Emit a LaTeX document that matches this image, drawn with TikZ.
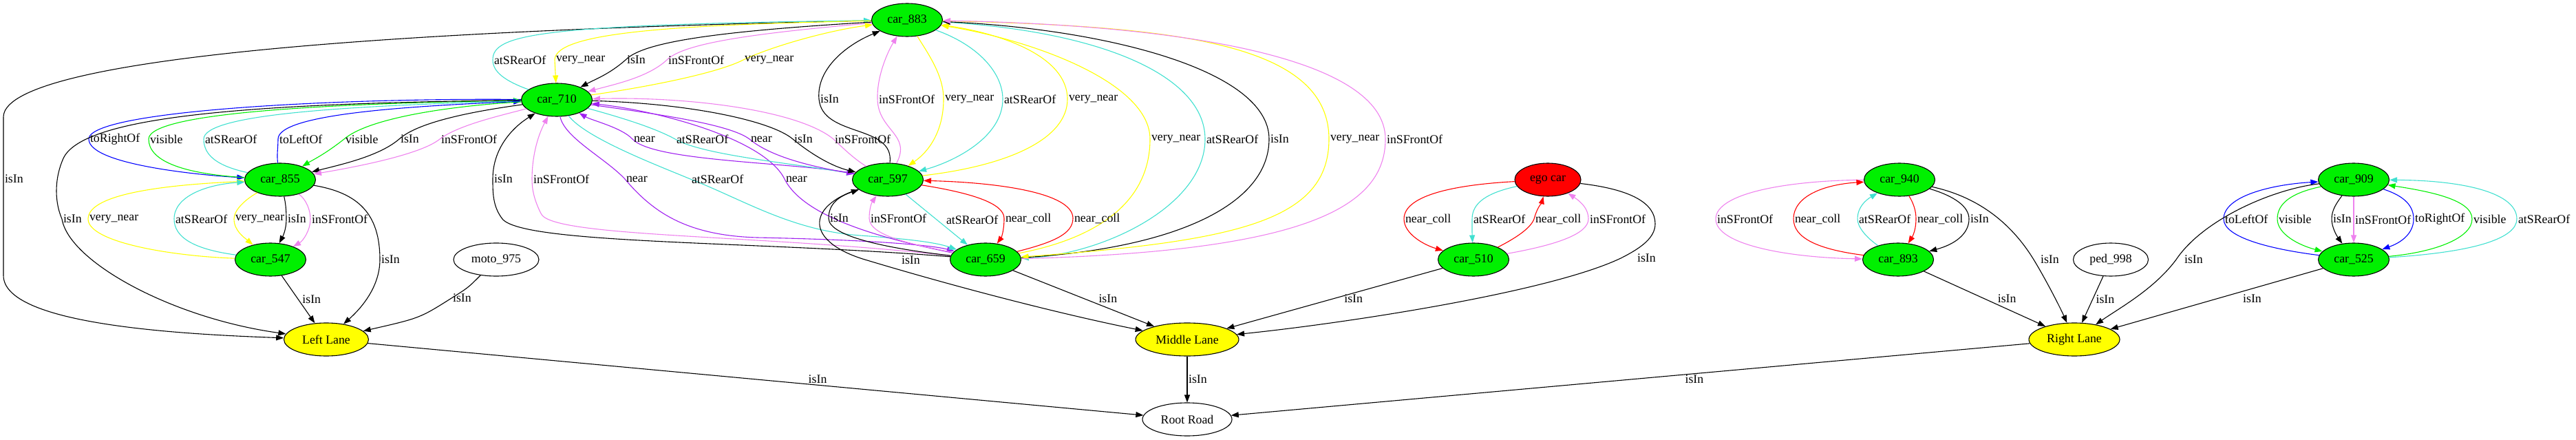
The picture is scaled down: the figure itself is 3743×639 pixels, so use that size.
\documentclass[tikz,border=0pt]{standalone}
\usepackage{fontspec}
\setmainfont{Liberation Serif}
\usetikzlibrary{shapes.geometric,arrows.meta}

\definecolor{gvgreen}{HTML}{00F000}
\definecolor{gvyellow}{HTML}{FFFF00}
\definecolor{gvred}{HTML}{FF0000}
\definecolor{gvturq}{HTML}{40E0D0}
\definecolor{gvviolet}{HTML}{EE82EE}
\definecolor{gvpurple}{HTML}{A020F0}
\definecolor{gvblue}{HTML}{0000FF}
\newcommand{\gvfont}{\fontsize{17.8}{20}\selectfont}

\begin{document}
\begin{tikzpicture}
	[x=1pt, y=-1pt,
		vehicle/.style	={ellipse
									, draw=black
									, line width=1.1pt, fill=gvgreen
									, minimum width=103pt
									, minimum height=48pt
									, inner sep=0pt
									, font=\gvfont
									},
		lane/.style		={vehicle
									, fill=gvyellow
									},
		other/.style		={vehicle
									, fill=white
									},
		rel/.style		 	={draw
									, line width=1.1pt
									, -{Triangle[length=11pt,width=8pt]}
									},
		lbl/.style			={anchor=west
									, inner sep=1.5pt
									, text=black
									, font=\gvfont
									},
		isIn/.style			={rel, draw=black},
		inFront/.style		={rel, draw=gvviolet},
		atRear/.style		={rel, draw=gvturq},
		veryNear/.style	={rel, draw=gvyellow},
		nearRel/.style		={rel, draw=gvpurple},
		nearColl/.style	={rel, draw=gvred},
		visibleRel/.style	={rel, draw=gvgreen},
		leftOf/.style		={rel, draw=gvblue},
		rightOf/.style		={rel, draw=gvblue}
	]
\useasboundingbox (0,0) rectangle (3743,639);

% rank 1
\node [vehicle] (car883)	at (1318,29)	{car\_883};
% rank 2
\node [vehicle] (car710)	at (809,145)	{car\_710};
% rank 3
\node [vehicle] (car855)	at (407,261)	{car\_855};
\node [vehicle] (car597)	at (1290,261)	{car\_597};
\node [vehicle, fill=gvred, minimum width=96pt] (egocar)	at (2249,261)	{ego car};
\node [vehicle] (car940)	at (2760,261)	{car\_940};
\node [vehicle] (car909)	at (3420,261)	{car\_909};
% rank 4
\node [vehicle] (car547)	at (393,377)	{car\_547};
\node [other, minimum width=124pt] (moto975)	at (721,377)	{moto\_975};
\node [vehicle] (car659)	at (1432,377)	{car\_659};
\node [vehicle] (car510)	at (2141,377)	{car\_510};
\node [vehicle] (car893)	at (2758,377)	{car\_893};
\node [other, minimum width=109pt] (ped998)	at (3067,377)	{ped\_998};
\node [vehicle] (car525)	at (3420,377)	{car\_525};
% rank 5
\node [lane, minimum width=123pt] (leftlane)	at (474,493)	{Left Lane};
\node [lane, minimum width=150pt] (middlelane)	at (1725,493)	{Middle Lane};
\node [lane, minimum width=132pt] (rightlane)	at (3014,493)	{Right Lane};
% rank 6
\node [other, minimum width=130pt] (rootroad)	at (1725,609)	{Root Road};

% car_883
\draw [isIn]		(car883) .. controls (500,45) and (5,90) .. (5,170) -- (5,260) node [lbl] {isIn} -- (5,400) .. controls (5,470) and (250,485) .. (leftlane);
\draw [atRear]		(car710) .. controls (735,118) and (716,105) .. (716,87) node [lbl] {atSRearOf} .. controls (716,50) and (780,36) .. (car883);
\draw [veryNear]	(car883) .. controls (1000,36) and (806,45) .. (806,87) node [lbl] {very\_near} -- (car710);
\draw [isIn]		(car883) .. controls (1050,45) and (935,60) .. (909,87) node [lbl] {isIn} .. controls (885,108) and (865,115) .. (car710);
\draw [inFront]	(car883) .. controls (1100,48) and (994,62) .. (969,87) node [lbl] {inSFrontOf} .. controls (942,112) and (895,122) .. (car710);
\draw [veryNear]	(car710) .. controls (950,125) and (1045,105) .. (1080,87) node [lbl] {very\_near} .. controls (1120,68) and (1200,45) .. (car883);
\draw [isIn]		(car597) .. controls (1300,180) and (1195,200) .. (1190,144) node [lbl] {isIn} .. controls (1186,100) and (1230,65) .. (car883);
\draw [inFront]	(car597) .. controls (1325,195) and (1276,190) .. (1275,144) node [lbl] {inSFrontOf} .. controls (1274,110) and (1290,75) .. (car883);
\draw [veryNear]	(car883) .. controls (1350,80) and (1371,110) .. (1371,144) node [lbl] {very\_near} .. controls (1371,190) and (1350,220) .. (car597);
\draw [atRear]		(car883) .. controls (1420,65) and (1457,105) .. (1457,144) node [lbl] {atSRearOf} .. controls (1457,200) and (1385,235) .. (car597);
\draw [veryNear]	(car597) .. controls (1470,240) and (1551,200) .. (1551,144) node [lbl] {very\_near} .. controls (1551,80) and (1450,48) .. (car883);
\draw [veryNear]	(car659) .. controls (1600,345) and (1671,290) .. (1671,202) node [lbl] {very\_near} .. controls (1671,120) and (1500,58) .. (car883);
\draw [atRear]		(car883) .. controls (1600,45) and (1751,110) .. (1751,202) node [lbl] {atSRearOf} .. controls (1751,300) and (1600,370) .. (car659);
\draw [isIn]		(car659) .. controls (1700,362) and (1844,300) .. (1844,202) node [lbl] {isIn} .. controls (1844,100) and (1600,42) .. (car883);
\draw [veryNear]	(car883) .. controls (1700,38) and (1931,60) .. (1931,202) node [lbl] {very\_near} .. controls (1931,320) and (1800,350) .. (car659);
\draw [inFront]	(car659) .. controls (1900,365) and (2013,300) .. (2013,202) node [lbl] {inSFrontOf} .. controls (2013,80) and (1700,36) .. (car883);

% car_710 and car_855
\draw [rightOf]	(car710) .. controls (500,142) and (129,160) .. (129,202) node [lbl] {toRightOf} .. controls (129,240) and (300,255) .. (car855);
\draw [visibleRel]	(car855) .. controls (260,252) and (216,232) .. (216,202) node [lbl] {visible} .. controls (216,162) and (500,150) .. (car710);
\draw [atRear]		(car855) .. controls (320,242) and (296,228) .. (296,202) node [lbl] {atSRearOf} .. controls (296,166) and (500,154) .. (car710);
\draw [leftOf]		(car855) .. controls (402,225) and (404,215) .. (404,202) node [lbl] {toLeftOf} .. controls (404,165) and (600,154) .. (car710);
\draw [visibleRel]	(car710) .. controls (650,154) and (535,172) .. (500,202) node [lbl] {visible} .. controls (472,224) and (455,232) .. (car855);
\draw [isIn]		(car710) .. controls (700,160) and (610,175) .. (580,202) node [lbl] {isIn} .. controls (552,226) and (500,238) .. (car855);
\draw [inFront]	(car710) .. controls (740,165) and (668,180) .. (639,202) node [lbl] {inSFrontOf} .. controls (612,224) and (520,242) .. (car855);
\draw [isIn]		(car710) .. controls (350,150) and (120,170) .. (92,230) .. controls (78,262) and (80,295) .. (90,318) node [lbl] {isIn} .. controls (100,380) and (250,462) .. (leftlane);
\draw [isIn]		(car855) .. controls (520,280) and (552,310) .. (552,377) node [lbl] {isIn} .. controls (552,420) and (520,452) .. (leftlane);

% car_855 and car_547
\draw [veryNear]	(car547) .. controls (250,372) and (128,352) .. (128,318) node [lbl] {very\_near} .. controls (128,280) and (250,268) .. (car855);
\draw [atRear]		(car547) .. controls (282,362) and (253,345) .. (253,318) node [lbl] {atSRearOf} .. controls (253,285) and (300,268) .. (car855);
\draw [veryNear]	(car855) .. controls (356,290) and (340,305) .. (340,318) node [lbl] {very\_near} .. controls (340,335) and (355,345) .. (car547);
\draw [isIn]		(car855) .. controls (415,295) and (416,305) .. (416,318) node [lbl] {isIn} .. controls (416,335) and (410,345) .. (car547);
\draw [inFront]	(car855) .. controls (445,290) and (451,305) .. (451,318) node [lbl] {inSFrontOf} .. controls (451,335) and (440,350) .. (car547);
\draw [isIn]		(car547) -- node [lbl, xshift=4pt] {isIn} (leftlane);
\draw [isIn]		(moto975) .. controls (680,418) .. (656,433) node [lbl] {isIn} .. controls (610,462) .. (leftlane);
\draw [isIn]		(leftlane) -- node [lbl, pos=.58, anchor=south] {isIn} (rootroad);

% car_710, car_597 and car_659
\draw [isIn]		(car659) .. controls (1100,350) and (760,355) .. (730,318) .. controls (716,300) and (716,280) .. (716,260) node [lbl] {isIn} .. controls (716,215) and (745,185) .. (car710);
\draw [inFront]	(car659) .. controls (1100,340) and (800,345) .. (786,310) .. controls (776,290) and (773,275) .. (773,260) node [lbl] {inSFrontOf} .. controls (773,230) and (780,200) .. (car710);
\draw [nearRel]	(car710) .. controls (820,200) and (880,230) .. (908,260) node [lbl] {near} .. controls (950,310) and (1000,342) .. (1100,345) .. controls (1250,348) and (1350,355) .. (car659);
\draw [atRear]		(car710) .. controls (850,200) and (955,240) .. (1003,260) node [lbl] {atSRearOf} .. controls (1080,290) and (1150,335) .. (1250,342) .. controls (1320,347) and (1360,352) .. (car659);
\draw [nearRel]	(car659) .. controls (1300,350) and (1170,320) .. (1140,260) node [lbl] {near} .. controls (1110,200) and (950,160) .. (car710);
\draw [nearRel]	(car597) .. controls (1150,235) and (950,235) .. (919,202) node [lbl] {near} .. controls (903,185) and (860,175) .. (car710);
\draw [atRear]		(car710) .. controls (900,170) and (950,185) .. (981,202) node [lbl] {atSRearOf} .. controls (1020,225) and (1150,237) .. (car597);
\draw [nearRel]	(car710) .. controls (950,165) and (1060,180) .. (1089,202) node [lbl] {near} .. controls (1120,228) and (1180,242) .. (car597);
\draw [isIn]		(car710) .. controls (1000,150) and (1120,175) .. (1152,202) node [lbl] {isIn} .. controls (1180,225) and (1210,242) .. (car597);
\draw [inFront]	(car597) .. controls (1240,230) and (1225,215) .. (1211,202) node [lbl] {inSFrontOf} .. controls (1160,160) and (1000,140) .. (car710);
\draw [isIn]		(car659) .. controls (1300,362) and (1204,345) .. (1204,317) node [lbl] {isIn} .. controls (1204,295) and (1220,285) .. (car597);
\draw [inFront]	(car659) .. controls (1340,357) and (1263,345) .. (1263,317) node [lbl] {inSFrontOf} .. controls (1263,305) and (1266,295) .. (car597);
\draw [atRear]		(car597) -- node [lbl, xshift=12pt] {atSRearOf} (car659);
\draw [nearColl]	(car597) .. controls (1410,280) and (1459,295) .. (1459,317) node [lbl] {near\_coll} .. controls (1459,335) and (1455,345) .. (car659);
\draw [nearColl]	(car659) .. controls (1530,352) and (1559,340) .. (1559,317) node [lbl] {near\_coll} .. controls (1559,280) and (1450,265) .. (car597);
\draw [isIn]		(car597) .. controls (1170,300) and (1170,352) .. (1260,378) node [lbl, xshift=48pt] {isIn} .. controls (1400,420) and (1550,458) .. (middlelane);
\draw [isIn]		(car659) -- node [lbl, xshift=20pt] {isIn} (middlelane);
\draw [isIn]		(middlelane) -- node [lbl] {isIn} (rootroad);

% ego car and car_510
\draw [nearColl]	(egocar) .. controls (2120,268) and (2040,282) .. (2040,318) node [lbl] {near\_coll} .. controls (2040,340) and (2070,356) .. (car510);
\draw [atRear]		(egocar) .. controls (2160,280) and (2139,295) .. (2139,318) node [lbl] {atSRearOf} .. controls (2139,335) and (2139,340) .. (car510);
\draw [nearColl]	(car510) .. controls (2200,347) and (2224,332) .. (2229,318) node [lbl] {near\_coll} .. controls (2234,300) and (2240,295) .. (egocar);
\draw [inFront]	(car510) .. controls (2260,356) and (2308,340) .. (2308,318) node [lbl] {inSFrontOf} .. controls (2308,305) and (2300,295) .. (egocar);
\draw [isIn]		(egocar) .. controls (2370,275) and (2405,295) .. (2405,325) .. controls (2405,345) and (2385,360) .. (2355,375) node [lbl, xshift=22pt] {isIn} .. controls (2250,425) and (1950,470) .. (middlelane);
\draw [isIn]		(car510) -- node [lbl, xshift=12pt] {isIn} (middlelane);

% car_940 and car_893
\draw [inFront]	(car940) .. controls (2600,262) and (2493,280) .. (2493,318) node [lbl] {inSFrontOf} .. controls (2493,356) and (2600,374) .. (car893);
\draw [nearColl]	(car893) .. controls (2640,362) and (2606,345) .. (2606,318) node [lbl] {near\_coll} .. controls (2606,285) and (2650,268) .. (car940);
\draw [atRear]		(car893) .. controls (2712,345) and (2699,330) .. (2699,318) node [lbl] {atSRearOf} .. controls (2699,300) and (2712,290) .. (car940);
\draw [nearColl]	(car940) .. controls (2780,295) and (2784,305) .. (2784,318) node [lbl] {near\_coll} .. controls (2784,330) and (2781,340) .. (car893);
\draw [isIn]		(car940) .. controls (2840,285) and (2861,300) .. (2861,318) node [lbl] {isIn} .. controls (2861,340) and (2840,355) .. (car893);
\draw [isIn]		(car940) .. controls (2870,285) and (2920,320) .. (2955,377) node [lbl, xshift=8pt] {isIn} .. controls (2975,410) and (2995,450) .. (rightlane);
\draw [isIn]		(car893) -- node [lbl, xshift=17pt] {isIn} (rightlane);
\draw [isIn]		(ped998) -- node [lbl, xshift=3pt] {isIn} (rightlane);

% car_909 and car_525
\draw [leftOf]		(car525) .. controls (3300,362) and (3231,345) .. (3231,318) node [lbl] {toLeftOf} .. controls (3231,285) and (3300,268) .. (car909);
\draw [visibleRel]	(car909) .. controls (3330,280) and (3309,295) .. (3309,318) node [lbl] {visible} .. controls (3309,340) and (3340,356) .. (car525);
\draw [isIn]		(car909) .. controls (3395,295) and (3388,305) .. (3388,318) node [lbl] {isIn} .. controls (3388,330) and (3395,342) .. (car525);
\draw [inFront]	(car909) -- node [lbl] {inSFrontOf} (car525);
\draw [rightOf]	(car909) .. controls (3495,285) and (3507,300) .. (3507,318) node [lbl] {toRightOf} .. controls (3507,335) and (3495,350) .. (car525);
\draw [visibleRel]	(car525) .. controls (3540,366) and (3592,345) .. (3592,318) node [lbl] {visible} .. controls (3592,290) and (3530,278) .. (car909);
\draw [atRear]		(car525) .. controls (3600,366) and (3657,345) .. (3657,318) node [lbl] {atSRearOf} .. controls (3657,280) and (3580,262) .. (car909);
\draw [isIn]		(car909) .. controls (3300,275) and (3200,320) .. (3162,377) node [lbl, xshift=10pt] {isIn} .. controls (3130,420) and (3080,447) .. (rightlane);
\draw [isIn]		(car525) -- node [lbl, xshift=36pt] {isIn} (rightlane);
\draw [isIn]		(rightlane) -- node [lbl, pos=.42, anchor=north] {isIn} (rootroad);
\end{tikzpicture}
\end{document}
